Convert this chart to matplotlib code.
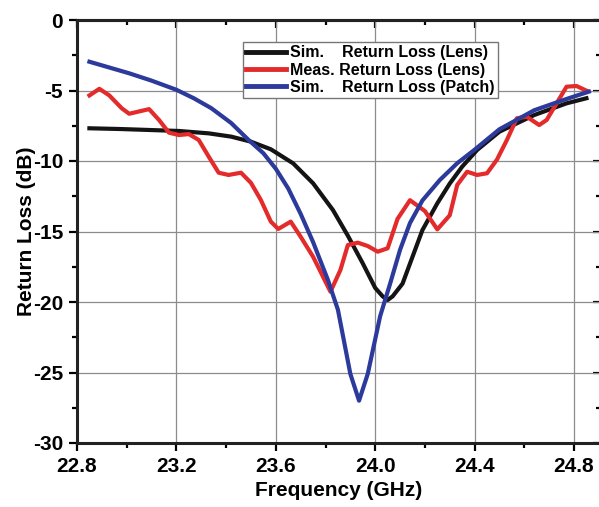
import numpy as np
import matplotlib
matplotlib.use("Agg")
import matplotlib.pyplot as plt
from matplotlib.ticker import MultipleLocator

# Data (frequency in GHz, return loss in dB)
sim_lens_f = [22.85, 22.97, 23.09, 23.21, 23.33, 23.42, 23.50, 23.58, 23.67, 23.75,
              23.83, 23.89, 23.95, 24.00, 24.03, 24.05, 24.07, 24.11, 24.15, 24.19,
              24.25, 24.30, 24.35, 24.41, 24.50, 24.64, 24.77, 24.85]
sim_lens_rl = [-7.68, -7.73, -7.80, -7.87, -8.04, -8.27, -8.63, -9.17, -10.17, -11.58,
               -13.48, -15.30, -17.26, -19.00, -19.60, -19.86, -19.60, -18.70, -16.80, -14.90,
               -13.00, -11.60, -10.40, -9.22, -7.92, -6.74, -5.91, -5.55]

meas_lens_f = [22.85, 22.89, 22.93, 22.98, 23.01, 23.09, 23.13, 23.17, 23.21, 23.25,
               23.29, 23.33, 23.37, 23.41, 23.46, 23.50, 23.54, 23.58, 23.61, 23.66,
               23.70, 23.75, 23.82, 23.86, 23.89, 23.93, 23.97, 24.01, 24.05, 24.09,
               24.14, 24.20, 24.25, 24.30, 24.33, 24.37, 24.41, 24.45, 24.49, 24.53,
               24.57, 24.61, 24.66, 24.69, 24.73, 24.77, 24.81, 24.85]
meas_lens_rl = [-5.35, -4.88, -5.35, -6.26, -6.65, -6.32, -7.09, -7.99, -8.16, -8.09,
                -8.51, -9.69, -10.83, -10.99, -10.83, -11.55, -12.77, -14.30, -14.82, -14.30,
                -15.37, -16.79, -19.27, -17.73, -15.96, -15.79, -16.03, -16.43, -16.19, -14.10,
                -12.78, -13.55, -14.85, -13.85, -11.70, -10.76, -10.99, -10.87, -9.90, -8.51,
                -6.97, -6.86, -7.45, -7.09, -5.91, -4.73, -4.68, -5.01]

sim_patch_f = [22.85, 23.01, 23.10, 23.20, 23.27, 23.34, 23.42, 23.49, 23.55, 23.60,
               23.65, 23.70, 23.75, 23.81, 23.85, 23.90, 23.935, 23.97, 24.02, 24.06,
               24.10, 24.14, 24.19, 24.26, 24.33, 24.40, 24.50, 24.64, 24.77, 24.86]
sim_patch_rl = [-2.96, -3.78, -4.30, -4.95, -5.55, -6.25, -7.30, -8.50, -9.45, -10.55,
                -11.95, -13.75, -15.75, -18.45, -20.55, -25.10, -27.00, -25.10, -21.00, -18.70,
                -16.30, -14.40, -12.80, -11.35, -10.16, -9.20, -7.75, -6.40, -5.60, -5.08]

labels = ["Sim.    Return Loss (Lens)",
          "Meas. Return Loss (Lens)",
          "Sim.    Return Loss (Patch)"]
colors = ["#141414", "#e42b2b", "#2c3a9c"]

plt.rcParams['font.family'] = ['Liberation Sans', 'DejaVu Sans']
plt.rcParams['font.weight'] = 'bold'

fig = plt.figure(figsize=(5.99, 5.07), dpi=100)
ax = fig.add_axes([77 / 599, 1 - 443 / 507, 524 / 599, 423 / 507])

ax.plot(sim_lens_f, sim_lens_rl, color=colors[0], lw=3, label=labels[0], zorder=3)
ax.plot(meas_lens_f, meas_lens_rl, color=colors[1], lw=3, label=labels[1], zorder=3)
ax.plot(sim_patch_f, sim_patch_rl, color=colors[2], lw=3, label=labels[2], zorder=3)

ax.set_xlim(22.8, 22.8 + 524 / 248.5)
ax.set_ylim(-30, 0)
ax.xaxis.set_minor_locator(MultipleLocator(0.2))
ax.yaxis.set_minor_locator(MultipleLocator(2.5))
ax.set_xticks([22.8, 23.2, 23.6, 24.0, 24.4, 24.8])
ax.set_xticklabels(["22.8", "23.2", "23.6", "24.0", "24.4", "24.8"])
ax.set_yticks([0, -5, -10, -15, -20, -25, -30])
ax.set_yticklabels(["0", "-5", "-10", "-15", "-20", "-25", "-30"])

ax.grid(True, which='major', color='#8c8c8c', lw=0.9)
ax.set_axisbelow(True)

ax.tick_params(which='major', direction='out', length=6, width=1.6,
               labelsize=15, pad=4)
ax.tick_params(which='minor', direction='out', length=3.5, width=1.6)
for s in ax.spines.values():
    s.set_linewidth(2.2)
    s.set_color('#222222')

# mirrored ticks on top and right point inward
top = ax.secondary_xaxis('top')
top.xaxis.set_major_locator(MultipleLocator(0.4))
top.xaxis.set_minor_locator(MultipleLocator(0.2))
top.tick_params(which='major', direction='in', length=6, width=1.6, labeltop=False)
top.tick_params(which='minor', direction='in', length=3.5, width=1.6)
top.spines['top'].set_linewidth(2.2)

right = ax.secondary_yaxis('right')
right.yaxis.set_major_locator(MultipleLocator(5))
right.yaxis.set_minor_locator(MultipleLocator(2.5))
right.tick_params(which='major', direction='in', length=6, width=1.6, labelright=False)
right.tick_params(which='minor', direction='in', length=3.5, width=1.6)

ax.set_xlabel("Frequency (GHz)", fontsize=15, fontweight='bold', labelpad=4)
ax.set_ylabel("Return Loss (dB)", fontsize=15, fontweight='bold', labelpad=-2)

leg = ax.legend(loc='upper left', bbox_to_anchor=((243 - 77) / 524, (443 - 42) / 423),
                borderaxespad=0, fontsize=11.5, fancybox=False, framealpha=1,
                edgecolor='#777777', handlelength=2.5, handletextpad=0.25,
                labelspacing=0.15, borderpad=0.2)
leg.get_frame().set_linewidth(1.0)
for h in leg.get_lines():
    h.set_linewidth(3.5)

fig.savefig("out.png", dpi=100)
